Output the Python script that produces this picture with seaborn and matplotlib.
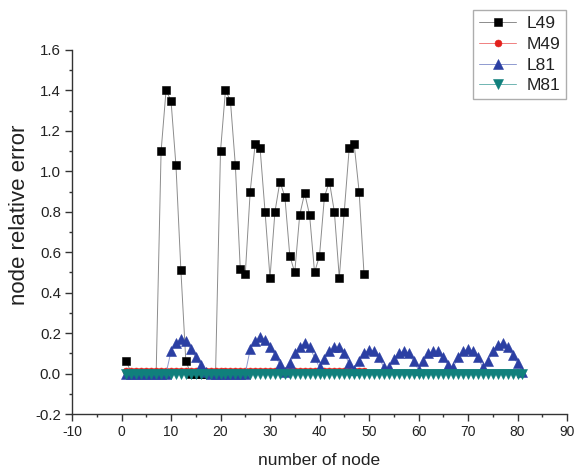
import numpy as np
import pandas as pd
import matplotlib
matplotlib.use("Agg")
import matplotlib.pyplot as plt
import seaborn as sns

# ---------------- data ----------------
nodes49 = list(range(1, 50))
nodes81 = list(range(1, 82))

L49 = [0.06, 0.0, 0.0, 0.0, 0.0, 0.0, 0.0,
       1.10, 1.40, 1.35, 1.03, 0.51, 0.06,
       0.0, 0.0, 0.0, 0.0, 0.0, 0.0,
       1.10, 1.40, 1.35, 1.03, 0.515, 0.49, 0.90, 1.135, 1.114, 0.80,
       0.474, 0.80, 0.949, 0.875, 0.582, 0.50, 0.784, 0.892, 0.784, 0.50,
       0.582, 0.875, 0.949, 0.80, 0.474, 0.80, 1.114, 1.135, 0.90, 0.49]

M49 = [0.012, 0.012, 0.012, 0.012, 0.012, 0.012, 0.012, 0.012, 0.012, 0.012,
       0.012, 0.012, 0.012, 0.012, 0.012, 0.012, 0.012, 0.012, 0.012, 0.012,
       0.012, 0.012, 0.012, 0.012, 0.012, 0.012, 0.012, 0.012, 0.012, 0.012,
       0.012, 0.012, 0.012, 0.012, 0.012, 0.012, 0.012, 0.012, 0.012, 0.012,
       0.012, 0.012, 0.012, 0.012, 0.012, 0.012, 0.012, 0.012, 0.012]

L81 = [0.0, 0.0, 0.0, 0.0, 0.0, 0.0, 0.0, 0.0, 0.0,
       0.11, 0.15, 0.17, 0.16, 0.12, 0.08, 0.04, 0.01,
       0.0, 0.0, 0.0, 0.0, 0.0, 0.0, 0.0, 0.0,
       0.12, 0.16, 0.18, 0.165, 0.13, 0.09, 0.045, 0.01,
       0.05, 0.10, 0.13, 0.15, 0.13, 0.08, 0.03,
       0.07, 0.11, 0.13, 0.13, 0.10, 0.05, 0.02,
       0.06, 0.10, 0.115, 0.11, 0.08, 0.03, 0.03,
       0.07, 0.10, 0.11, 0.10, 0.06, 0.02,
       0.06, 0.10, 0.11, 0.11, 0.08, 0.04, 0.03,
       0.08, 0.11, 0.12, 0.11, 0.08, 0.03,
       0.06, 0.11, 0.14, 0.15, 0.13, 0.09, 0.05, 0.01]

M81 = [0.0, 0.0, 0.0, 0.0, 0.0, 0.0, 0.0, 0.0, 0.0, 0.0,
       0.0, 0.0, 0.0, 0.0, 0.0, 0.0, 0.0, 0.0, 0.0, 0.0,
       0.0, 0.0, 0.0, 0.0, 0.0, 0.0, 0.0, 0.0, 0.0, 0.0,
       0.0, 0.0, 0.0, 0.0, 0.0, 0.0, 0.0, 0.0, 0.0, 0.0,
       0.0, 0.0, 0.0, 0.0, 0.0, 0.0, 0.0, 0.0, 0.0, 0.0,
       0.0, 0.0, 0.0, 0.0, 0.0, 0.0, 0.0, 0.0, 0.0, 0.0,
       0.0, 0.0, 0.0, 0.0, 0.0, 0.0, 0.0, 0.0, 0.0, 0.0,
       0.0, 0.0, 0.0, 0.0, 0.0, 0.0, 0.0, 0.0, 0.0, 0.0,
       0.0]

x_ticks = [-10, 0, 10, 20, 30, 40, 50, 60, 70, 80, 90]
y_ticks = [-0.2, 0.0, 0.2, 0.4, 0.6, 0.8, 1.0, 1.2, 1.4, 1.6]

# ---------------- style ----------------
sns.set_theme(style="ticks")
plt.rcParams["font.family"] = ["Liberation Sans", "DejaVu Sans"]

fig = plt.figure(figsize=(5.74, 4.73), dpi=100)
ax = fig.add_axes([72 / 574, 59 / 473, 495 / 574, 364 / 473])

df49 = pd.DataFrame({"node": nodes49, "L49": L49, "M49": M49})
df81 = pd.DataFrame({"node": nodes81, "L81": L81, "M81": M81})

series = [
    (df49, "L49", "s", 5.3, "#000000", "#8c8c8c"),
    (df49, "M49", "o", 5.0, "#e3211c", "#f08080"),
    (df81, "L81", "^", 7.0, "#2b3fa3", "#8f9ad0"),
    (df81, "M81", "v", 6.5, "#10807c", "#6fb5b2"),
]
for d, name, mk, ms, mcol, lcol in series:
    sns.lineplot(data=d, x="node", y=name, ax=ax, marker=mk, markersize=ms,
                 color=lcol, linewidth=0.7, markerfacecolor=mcol,
                 markeredgecolor=mcol, markeredgewidth=0.4, label=name,
                 legend=False)

ax.set_xlim(-10, 90)
ax.set_ylim(-0.2, 1.6)
ax.set_xticks(x_ticks)
ax.set_yticks(y_ticks)
ax.set_xticklabels([str(t) for t in x_ticks])
ax.set_yticklabels([f"{t:.1f}" for t in y_ticks])
ax.set_xticks([-5, 5, 15, 25, 35, 45, 55, 65, 75, 85], minor=True)
ax.set_yticks([-0.1, 0.1, 0.3, 0.5, 0.7, 0.9, 1.1, 1.3, 1.5], minor=True)

for s in ["top", "right"]:
    ax.spines[s].set_visible(False)
for s in ["left", "bottom"]:
    ax.spines[s].set_color("#333333")
    ax.spines[s].set_linewidth(1.0)

ax.tick_params(axis="both", which="major", direction="out", length=5,
               width=1.0, color="#333333", pad=3, labelcolor="#222222")
ax.tick_params(axis="x", which="major", labelsize=10)
ax.tick_params(axis="y", which="major", labelsize=10.8)
ax.tick_params(axis="both", which="minor", direction="out", length=2.5,
               width=1.0, color="#333333")

ax.set_xlabel("number of node", fontsize=12.5, color="#222222", labelpad=10)
ax.set_ylabel("node relative error", fontsize=16, color="#222222")
ax.yaxis.set_label_coords((30 - 72) / 495, (414 - 215) / 364)

handles, labels = ax.get_legend_handles_labels()
if ax.get_legend() is not None:
    ax.get_legend().remove()
leg = fig.legend(handles, labels, loc="upper right",
                 bbox_to_anchor=(566 / 574, 1 - 10 / 473),
                 frameon=True, fancybox=False, fontsize=12.5,
                 handlelength=2.1, handletextpad=0.6, borderpad=0.35,
                 labelspacing=0.32, borderaxespad=0.0, numpoints=1)
leg.get_frame().set_edgecolor("#999999")
leg.get_frame().set_linewidth(1.0)
for t in leg.get_texts():
    t.set_color("#222222")

fig.savefig("out.png", dpi=100)
